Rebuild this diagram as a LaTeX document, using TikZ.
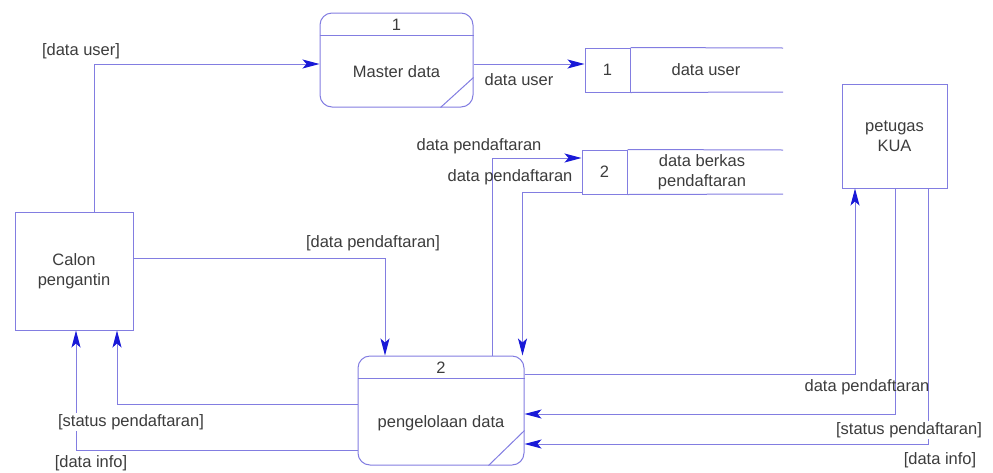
\documentclass[tikz,border=0pt]{standalone}
\usepackage{fontspec}
\setmainfont{Liberation Sans}
\usetikzlibrary{arrows.meta,calc}
\definecolor{ln}{RGB}{130,125,225}
\definecolor{tip}{RGB}{25,25,215}
\definecolor{txt}{RGB}{60,60,60}
\tikzset{
  every node/.style={font=\fontsize{16.5}{20}\selectfont, text=txt, inner sep=0pt},
  edge/.style={draw=ln, line width=1pt},
  flow/.style={edge, -{Stealth[length=17pt,width=9pt,inset=4pt,color=tip]}},
  proc/.style={draw=ln, line width=1pt, rounded corners=12pt},
  ent/.style={draw=ln, line width=1pt, align=center},
  sid/.style={draw=ln, line width=1pt},
  lbl/.style={inner sep=1pt},
  lblw/.style={inner sep=1pt, fill=white}
}
\begin{document}
\begin{tikzpicture}[x=1pt,y=-1pt]
\useasboundingbox (0,0) rectangle (993,472);

% entities
\node[ent, minimum width=118pt, minimum height=118pt] (calon) at (74,271) {Calon\\pengantin};
\node[ent, minimum width=105pt, minimum height=104pt] (kua) at (894.5,136) {petugas\\KUA};

% process 1
\node[proc, minimum width=153pt, minimum height=94pt] (p1) at (396.5,60) {};
\draw[edge] ([yshift=-23pt]p1.north west) -- ([yshift=-23pt]p1.north east);
\draw[edge] ([xshift=-33pt]p1.south east) -- ([yshift=30pt]p1.south east);
\node (p1n) at ($(p1.north)+(0,12)$) {1};
\node (p1t) at (396.5,72) {Master data};

% process 2
\node[proc, minimum width=166pt, minimum height=109pt] (p2) at (441,410.5) {};
\draw[edge] ([yshift=-23pt]p2.north west) -- ([yshift=-23pt]p2.north east);
\draw[edge] ([xshift=-36pt]p2.south east) -- ([yshift=35pt]p2.south east);
\node (p2n) at ($(p2.north)+(0,12)$) {2};
\node (p2t) at (441,423) {pengelolaan data};

% data store 1
\node[sid, minimum width=45pt, minimum height=44pt] (s1) at (607.5,70) {1};
\coordinate (s1e) at (783,48);
\coordinate (s1f) at (783,92);
\draw[edge] (s1.north east) -- (s1e);
\draw[edge] (s1.south east) -- (s1f);
\node (s1t) at (706,70) {data user};

% data store 2
\node[sid, minimum width=45pt, minimum height=44pt] (s2) at (604.5,172) {2};
\coordinate (s2e) at (783,150);
\coordinate (s2f) at (783,194);
\draw[edge] (s2.north east) -- (s2e);
\draw[edge] (s2.south east) -- (s2f);
\node[align=center] (s2t) at (702,172) {data berkas\\pendaftaran};

% flows
\draw[flow] ([xshift=20pt]calon.north) |- ($(p1.west)+(0,4)$);
\node[lbl] (l1) at (81,51) {[data user]};

\coordinate (a1) at ($(p1.east)+(0,4)$);
\draw[flow] (a1) -- (a1 -| s1.west);
\node[lbl] (l2) at (519,80) {data user};

\draw[flow] ([xshift=51pt]p2.north) |- ($(s2.west)+(0,-14)$);
\node[lbl] (l3) at (479,146) {data pendaftaran};

\draw[flow] ($(s2.west)+(0,20)$) -| ([xshift=-2pt]p2.north east);
\node[lbl] (l4) at (510,177) {data pendaftaran};

\draw[flow] ($(calon.east)+(0,-13)$) -| ([xshift=-56pt]p2.north);
\node[lbl] (l5) at (373,243) {[data pendaftaran]};

\draw[flow] ($(p2.west)+(0,-6.5)$) -| ([xshift=43pt]calon.south);
\draw[flow] ($(p2.west)+(0,39.5)$) -| ([xshift=2pt]calon.south);
\node[lblw] (l6) at (131,422) {[status pendaftaran]};
\node[lbl] (l7) at (91,463) {[data info]};

\draw[flow] ($(p2.east)+(0,-36.5)$) -| ([xshift=-39.5pt]kua.south);
\draw[flow] ([xshift=0.5pt]kua.south) |- ($(p2.east)+(0,3.5)$);
\draw[flow] ([xshift=33.5pt]kua.south) |- ($(p2.east)+(0,33.5)$);
\node[lbl] (l8) at (867,387) {data pendaftaran};
\node[lblw] (l9) at (909,430) {[status pendaftaran]};
\node[lbl] (l10) at (940,460) {[data info]};
\end{tikzpicture}
\end{document}
